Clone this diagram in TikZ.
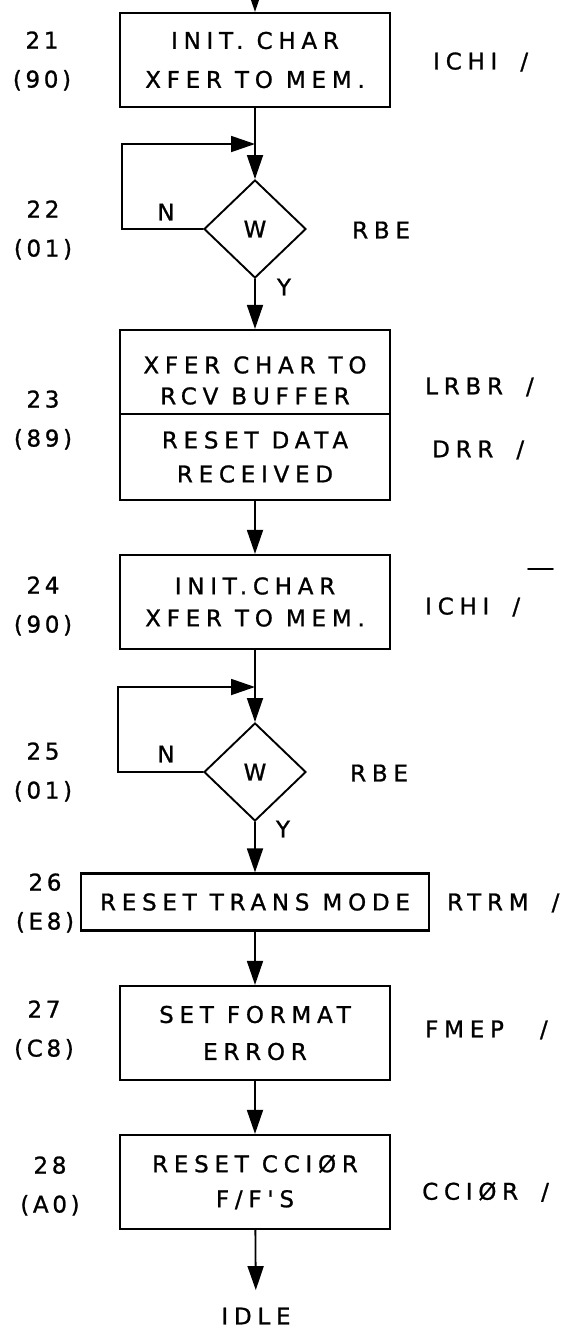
\documentclass[tikz,border=0pt]{standalone}
\usepackage{fontspec}
\newfontfamily\handfont[LetterSpace=25,FakeBold=1]{DejaVu Sans}
\newfontfamily\numfont[LetterSpace=16,FakeBold=1]{DejaVu Sans}
\usepackage{tikz}
\usetikzlibrary{arrows.meta,shapes.geometric}

\tikzset{
  stepbox/.style={draw,line width=2.2pt,minimum width=270pt,minimum height=94pt,inner sep=0pt,align=center},
  lines/.style={font=\handfont\fontsize{23}{#1}\selectfont},
  testbox/.style={draw,diamond,line width=1.9pt,minimum width=102pt,minimum height=98pt,inner sep=0pt},
  stepno/.style={align=center,inner sep=0pt,font=\numfont\fontsize{23}{39}\selectfont},
  tag/.style={anchor=west,inner sep=0pt},
  flow/.style={line width=1.8pt,-{Triangle[length=24pt,width=16pt]}},
}

\begin{document}
\begin{tikzpicture}[x=1pt,y=-1pt,line cap=round,font=\handfont\fontsize{23}{37}\selectfont]
\useasboundingbox (0,0) rectangle (565,1328);

% steps 21 - 28
\node[stepbox,lines=39] (b21) at (255,60) {INIT. CHAR\\XFER TO MEM.};
\node[testbox] (t22) at (255,229) {W};
\node[stepbox,lines=31,minimum height=84pt,text height=65pt] (b23a) at (255,372) {XFER CHAR TO\\RCV BUFFER};
\node[stepbox,lines=34,minimum height=86pt] (b23b) at (255,457) {RESET DATA\\RECEIVED};
\node[stepbox,lines=32] (b24) at (255,602) {INIT.CHAR\\XFER TO MEM.};
\node[testbox] (t25) at (255,772) {W};
\node[stepbox,minimum width=348pt,minimum height=57pt] (b26) at (255,902) {RESET TRANS MODE};
\node[stepbox,lines=37] (b27) at (255,1033) {SET FORMAT\\ERROR};
\node[stepbox,lines=35] (b28) at (255,1182) {RESET CCIØR\\F/F'S};
\node (idle) at (256,1316) {IDLE};

\coordinate (entry) at (255,-20);
\coordinate (n22) at (122,144);
\coordinate (n25) at (118,687);

% flow
\draw[flow] (entry) -- (b21);
\draw[flow] (b21) -- (t22);
\draw[flow] (t22.west) -- (t22.west -| n22) -- (n22) -- (n22 -| t22.north);
\draw[flow] (t22) -- (b23a);
\draw[flow] (b23b) -- (b24);
\draw[flow] (b24) -- (t25);
\draw[flow] (t25.west) -- (t25.west -| n25) -- (n25) -- (n25 -| t25.north);
\draw[flow] (t25) -- (b26);
\draw[flow] (b26) -- (b27);
\draw[flow] (b27) -- (b28);
\draw[flow,shorten >=14pt] (b28) -- (idle);

\node (n22lbl) at (166,212) {N};
\node (y22lbl) at (284,287) {Y};
\node (n25lbl) at (166,754) {N};
\node (y25lbl) at (283,829) {Y};

% step numbers
\node[stepno] (s21) at (42,61) {21\\(90)};
\node[stepno] (s22) at (43,230) {22\\(01)};
\node[stepno] (s23) at (43,420) {23\\(89)};
\node[stepno] (s24) at (43,606) {24\\(90)};
\node[stepno] (s25) at (43,772) {25\\(01)};
\node[stepno] (s26) at (45,903) {26\\(E8)};
\node[stepno] (s27) at (44,1030) {27\\(C8)};
\node[stepno] (s28) at (50,1186) {28\\(A0)};

% signals
\node[tag] (g21) at (433,62) {ICHI\quad/};
\node[tag] (g22) at (352,230) {RBE};
\node[tag] (g23a) at (425,387) {LRBR\quad/};
\node[tag] (g23b) at (432,450) {DRR\quad/};
\node[tag] (g24) at (425,607) {ICHI\quad/};
\node[tag] (g25) at (350,773) {RBE};
\node[tag] (g26) at (447,903) {RTRM\quad/};
\node[tag] (g27) at (425,1030) {FMEP\quad\ /};
\node[tag] (g28) at (422,1192) {CCIØR\quad/};
\draw[line width=1.8pt] (528,569) -- (553,569);
\end{tikzpicture}
\end{document}
